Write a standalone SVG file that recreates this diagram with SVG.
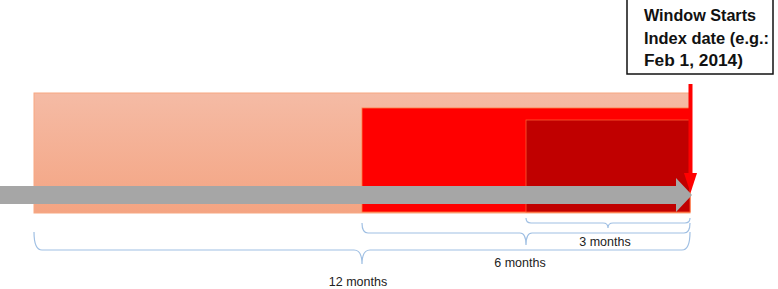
<svg xmlns="http://www.w3.org/2000/svg" width="778" height="289" viewBox="0 0 778 289">
<defs>
<linearGradient id="salmon" x1="0" y1="0" x2="0" y2="1">
<stop offset="0" stop-color="#f5bba5"/>
<stop offset="1" stop-color="#f4a482"/>
</linearGradient>
<style>
.brace{fill:none;stroke:#9fbfe3;stroke-width:1.2}
.lbl{font-family:"Liberation Sans",Arial,sans-serif;font-size:12.5px;fill:#222;text-anchor:middle}
.box{font-family:"Liberation Sans",Arial,sans-serif;font-size:16px;font-weight:bold;fill:#111}
</style>
</defs>
<g id="period12">
<rect x="34" y="93" width="656" height="120" fill="url(#salmon)" stroke="#f7a882" stroke-width="1"/>
</g>
<g id="period6">
<rect x="362" y="108" width="328" height="104" fill="#ff0000" stroke="#ff7a40" stroke-width="0.8"/>
</g>
<g id="period3">
<rect x="526" y="120" width="164" height="92" fill="#c00000" stroke="#ff5a30" stroke-width="0.8"/>
</g>
<g id="timeline">
<polygon points="0,186 676,186 676,178 692,195 676,212 676,204 0,204" fill="#a6a6a6"/>
</g>
<g id="connectors">
<line x1="690.5" y1="84" x2="690.5" y2="177" stroke="#ff0000" stroke-width="4"/>
<polygon points="684,173 697,173 690.5,193" fill="#ff0000"/>
<path class="brace" d="M526,218 Q526,223 531,223 L603,223 Q608,223 608,228 Q608,223 613,223 L685,223 Q690,223 690,218"/>
<path class="brace" d="M362,223 Q362,233 368,233 L520,233 Q526,233 526,245 Q526,233 532,233 L684,233 Q690,233 690,223"/>
<path class="brace" d="M34,232 Q34,250 42,250 L354,250 Q362,250 362,264 Q362,250 370,250 L682,250 Q690,250 690,232"/>
</g>
<g id="labels">
<text class="lbl" x="605" y="246">3 months</text>
<text class="lbl" x="520" y="267">6 months</text>
<text class="lbl" x="358" y="286">12 months</text>
</g>
<g id="index-date">
<rect x="627" y="-2" width="146" height="76" fill="#fff" stroke="#111" stroke-width="1.5"/>
<text class="box" x="644" y="21" textLength="112" lengthAdjust="spacingAndGlyphs">Window Starts</text>
<text class="box" x="644" y="44" textLength="125" lengthAdjust="spacingAndGlyphs">Index date (e.g.:</text>
<text class="box" x="644" y="66" textLength="99" lengthAdjust="spacingAndGlyphs">Feb 1, 2014)</text>
</g>
</svg>
